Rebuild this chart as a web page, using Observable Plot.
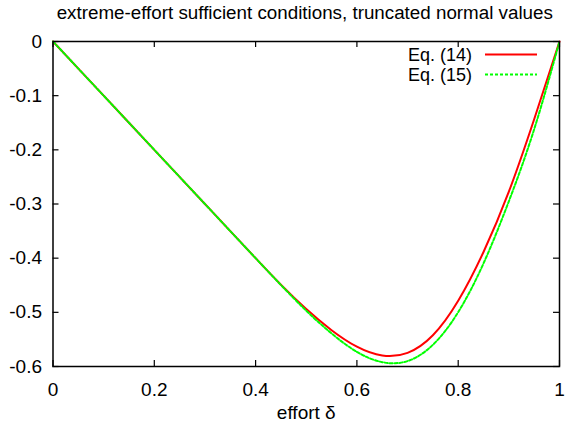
<!DOCTYPE html>
<html>
<head>
<meta charset="utf-8">
<script src="https://cdn.jsdelivr.net/npm/d3@7"></script>
<script src="https://cdn.jsdelivr.net/npm/@observablehq/plot@0.6"></script>
<style>
  html, body { margin: 0; padding: 0; background: #fff; }
  #chart svg { display: block; }
</style>
</head>
<body>
<div id="chart"></div>
<script>
const title = "extreme-effort sufficient conditions, truncated normal values";
const xLabel = "effort δ";
const seriesNames = ["Eq. (14)", "Eq. (15)"];
const xTicks = [0, 0.2, 0.4, 0.6, 0.8, 1];
const yTicks = [0, -0.1, -0.2, -0.3, -0.4, -0.5, -0.6];

const delta = [0, 0.05, 0.1, 0.15, 0.2, 0.25, 0.3, 0.35, 0.4, 0.45, 0.5, 0.55, 0.6, 0.65, 0.7, 0.75, 0.8, 0.85, 0.9, 0.95, 1];
const eq14 = [0, -0.05, -0.1, -0.15, -0.2, -0.25, -0.3, -0.35, -0.4, -0.449, -0.494, -0.533, -0.5635, -0.5798, -0.5748, -0.5423, -0.4786, -0.3886, -0.2773, -0.1436, 0];
const eq15 = [0, -0.05, -0.1, -0.15, -0.2, -0.25, -0.3, -0.35, -0.4, -0.4495, -0.497, -0.539, -0.573, -0.592, -0.590, -0.560, -0.4996, -0.4096, -0.295, -0.162, 0];

const data = delta.map((d, i) => ({d, v14: eq14[i], v15: eq15[i]}));

const W = 565, H = 431;
const mL = 52.5, mR = 6, mT = 41, mB = 65;
const frameH = H - mT - mB, frameW = W - mL - mR;
const TL = 6;
const FS = 19;
const font = "'Liberation Sans', Arial, Helvetica, sans-serif";
const colors = ["#ff0000", "#00ff00"];

function legend() {
  const g = d3.create("svg:g").attr("font-family", font).attr("font-size", 18);
  const rows = [{name: seriesNames[0], c: colors[0], dash: null, y: 54.5},
                {name: seriesNames[1], c: colors[1], dash: "3,2", y: 74.5}];
  for (const r of rows) {
    g.append("text").attr("x", 472).attr("y", r.y).attr("dy", "0.35em")
      .attr("text-anchor", "end").attr("fill", "#000").text(r.name);
    const l = g.append("line").attr("x1", 485).attr("x2", 537).attr("y1", r.y).attr("y2", r.y)
      .attr("stroke", r.c).attr("stroke-width", 2);
    if (r.dash) l.attr("stroke-dasharray", r.dash);
  }
  return g.node();
}

const chart = Plot.plot({
  width: W, height: H,
  marginLeft: mL, marginRight: mR, marginTop: mT, marginBottom: mB,
  style: {fontFamily: font, fontSize: FS + "px", color: "#000", background: "#fff"},
  x: {domain: [0, 1]},
  y: {domain: [-0.6, 0]},
  marks: [
    Plot.axisX(xTicks, {tickSize: 0, tickPadding: 16, fontSize: FS, tickFormat: d => String(d), label: null}),
    Plot.axisY(yTicks, {tickSize: 0, tickPadding: 11, fontSize: FS, tickFormat: d => String(d).replace("−", "-"), label: null}),
    Plot.tickX(xTicks, {x: d => d, insetTop: frameH - TL, stroke: "#000", strokeWidth: 1.2}),
    Plot.tickX(xTicks, {x: d => d, insetBottom: frameH - TL, stroke: "#000", strokeWidth: 1.2}),
    Plot.tickY(yTicks, {y: d => d, insetRight: frameW - TL, stroke: "#000", strokeWidth: 1.2}),
    Plot.tickY(yTicks, {y: d => d, insetLeft: frameW - TL, stroke: "#000", strokeWidth: 1.2}),
    Plot.line(data, {x: "d", y: "v14", stroke: colors[0], strokeWidth: 2, curve: "natural"}),
    Plot.line(data, {x: "d", y: "v15", stroke: colors[1], strokeWidth: 2, strokeDasharray: "3,2", curve: "natural"}),
    Plot.frame({stroke: "#000", strokeWidth: 1.5}),
    Plot.text([title], {text: d => d, frameAnchor: "top", lineAnchor: "middle", dy: -28.5, dx: -1.5, fontSize: 18.8, fill: "#000"}),
    Plot.text([xLabel], {text: d => d, frameAnchor: "bottom", lineAnchor: "middle", dy: 46, fontSize: FS, fill: "#000"}),
    legend
  ]
});
document.getElementById("chart").appendChild(chart);
</script>
</body>
</html>
